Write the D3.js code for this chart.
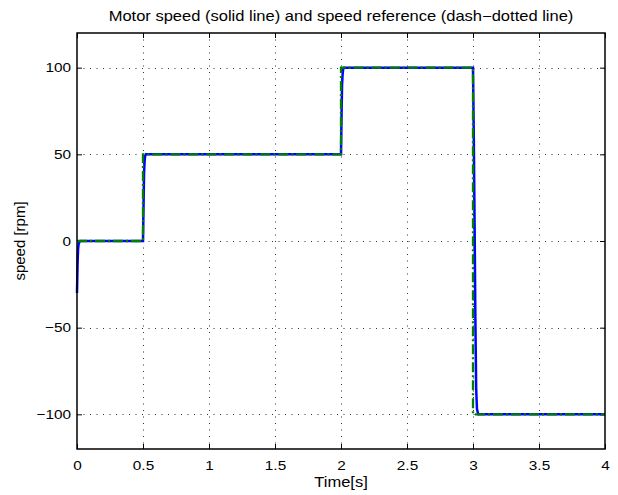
<!DOCTYPE html>
<html>
<head>
<meta charset="utf-8">
<script src="https://cdn.jsdelivr.net/npm/d3@7"></script>
<style>
  body { margin:0; background:#fff; }
  svg text { font-family: "Liberation Sans", Arial, sans-serif; fill:#000; }
</style>
</head>
<body>
<div id="chart"></div>
<script>
// 数据
var xTicks = [0, 0.5, 1, 1.5, 2, 2.5, 3, 3.5, 4];
var yTicks = [-100, -50, 0, 50, 100];

// 速度参考 (dash-dotted)
var refTime  = [0, 0.5, 0.5, 2, 2, 3, 3, 4];
var refSpeed = [0, 0, 50, 50, 100, 100, -100, -100];

// 电机速度 (solid)
var motorTime  = [0, 0.004, 0.008, 0.012, 0.018, 0.025, 0.5, 0.504, 0.508, 0.512, 0.516, 0.522, 2, 2.004, 2.008, 2.012, 2.016, 2.022, 3, 3.006, 3.012, 3.018, 3.024, 3.03, 3.04, 4];
var motorSpeed = [-30, -14, -5, -2, -0.5, 0, 0, 20, 39, 46, 49, 50, 50, 72, 90, 96, 99, 100, 100, 60, 10, -45, -85, -97, -100, -100];

(function(){
  var W = 618, H = 495;
  var pL = 77, pR = 605, pT = 33, pB = 449;
  var sx = 1.18;   // 原图文字被横向拉伸

  var svg = d3.select("#chart").append("svg")
    .attr("width", W).attr("height", H);

  var x = d3.scaleLinear().domain([0, 4]).range([pL, pR]);
  var y = d3.scaleLinear().domain([-120, 120]).range([pB, pT]);

  // 网格
  var grid = svg.append("g").attr("stroke", "#333").attr("stroke-width", 1)
    .attr("stroke-dasharray", "1,5.5");
  grid.selectAll(".gx").data(xTicks.slice(1, -1)).enter().append("line")
    .attr("x1", function(d){ return Math.round(x(d)) + 0.5; })
    .attr("x2", function(d){ return Math.round(x(d)) + 0.5; })
    .attr("y1", pT).attr("y2", pB);
  grid.selectAll(".gy").data(yTicks).enter().append("line")
    .attr("y1", function(d){ return Math.round(y(d)) + 0.5; })
    .attr("y2", function(d){ return Math.round(y(d)) + 0.5; })
    .attr("x1", pL).attr("x2", pR);

  // 坐标轴
  var xAxis = svg.append("g").attr("transform", "translate(0," + pB + ")")
    .call(d3.axisBottom(x).tickValues(xTicks).tickSizeInner(-5).tickSizeOuter(0).tickPadding(12)
      .tickFormat(d3.format("")));
  var xTop = svg.append("g").attr("transform", "translate(0," + pT + ")")
    .call(d3.axisTop(x).tickValues(xTicks).tickSizeInner(-5).tickSizeOuter(0).tickFormat(""));
  var yAxis = svg.append("g").attr("transform", "translate(" + pL + ",0)")
    .call(d3.axisLeft(y).tickValues(yTicks).tickSizeInner(-5).tickSizeOuter(0).tickPadding(5)
      .tickFormat(function(d){ return d < 0 ? "\u2212" + Math.abs(d) : d; }));
  var yRight = svg.append("g").attr("transform", "translate(" + pR + ",0)")
    .call(d3.axisRight(y).tickValues(yTicks).tickSizeInner(-5).tickSizeOuter(0).tickFormat(""));

  [xAxis, xTop, yAxis, yRight].forEach(function(a){
    a.select(".domain").remove();
    a.selectAll("line").attr("stroke", "#000").attr("stroke-width", 1);
  });
  xAxis.selectAll("text").attr("font-size", 13).attr("font-family", null)
    .attr("transform", "scale(" + sx + ",1)");
  yAxis.selectAll("text").attr("font-size", 13).attr("font-family", null)
    .attr("transform", "scale(" + sx + ",1)");

  // 曲线
  var line = d3.line().x(function(d){ return x(d[0]); }).y(function(d){ return y(d[1]); });
  var motorData = motorTime.map(function(t, i){ return [t, motorSpeed[i]]; });
  var refData = refTime.map(function(t, i){ return [t, refSpeed[i]]; });

  svg.append("path").datum(motorData).attr("d", line)
    .attr("fill", "none").attr("stroke", "#0000ff").attr("stroke-width", 2.5);
  svg.append("path").datum(refData).attr("d", line)
    .attr("fill", "none").attr("stroke", "#008000").attr("stroke-width", 2.3)
    .attr("stroke-dasharray", "10,3,2,3");

  // 外框
  svg.append("rect").attr("x", pL).attr("y", pT)
    .attr("width", pR - pL).attr("height", pB - pT)
    .attr("fill", "none").attr("stroke", "#000").attr("stroke-width", 1.5);

  // 文字
  svg.append("text").attr("text-anchor", "middle").attr("font-size", 14)
    .attr("transform", "translate(" + ((pL + pR) / 2) + ",21) scale(" + sx + ",1)")
    .text("Motor speed (solid line) and speed reference (dash\u2212dotted line)");
  svg.append("text").attr("text-anchor", "middle").attr("font-size", 14)
    .attr("transform", "translate(" + ((pL + pR) / 2) + ",487) scale(" + sx + ",1)")
    .text("Time[s]");
  svg.append("text").attr("text-anchor", "middle").attr("font-size", 15)
    .attr("transform", "translate(25," + ((pT + pB) / 2) + ") rotate(-90)")
    .text("speed [rpm]");
})();
</script>
</body>
</html>
